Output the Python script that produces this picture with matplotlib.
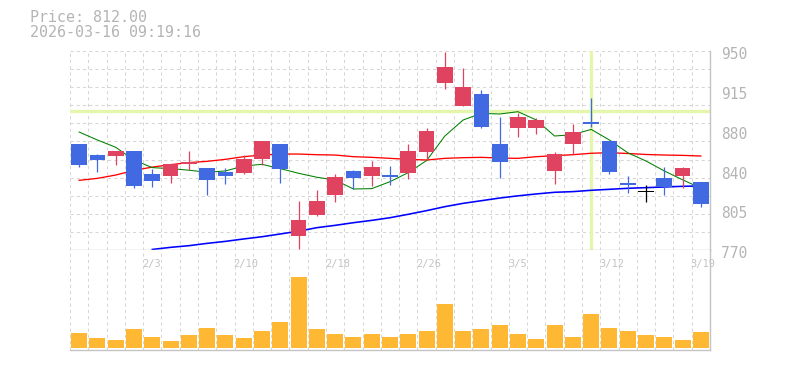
import matplotlib
matplotlib.use("Agg")
import matplotlib.pyplot as plt
from matplotlib.transforms import ScaledTranslation, blended_transform_factory
import numpy as np

# ---------------- data ----------------
header_price = "Price: 812.00"
header_time = "2026-03-16 09:19:16"

opens = [866, 856, 855, 859.5, 839, 836.5, 848, 844, 840.5, 840,
         852.5, 866, 783, 802, 820, 841.5, 837, 838, 840, 858.5,
         921, 900.5, 911, 866, 880.5, 880.5, 841.5, 866, 886, 868.5,
         830.5, 823, 835.5, 836.5, 831.5]
highs = [866, 857, 860, 860, 843, 848, 860, 844, 844, 855.5,
         869, 866, 814, 824, 839, 842.5, 850.5, 846, 866, 880,
         949, 934.5, 914.5, 890.5, 893.5, 889.5, 858.5, 884, 907.5, 868.5,
         837, 828.5, 845, 845.5, 831.5]
lows = [845, 841, 847, 826, 827, 831, 842, 820, 830, 839,
        846.5, 831, 771, 801, 813, 825, 828, 829, 834.5, 851.5,
        916, 900.5, 880.5, 835.5, 872.5, 874.5, 830, 857, 881, 839,
        822, 813, 820, 826.5, 809]
closes = [847, 851, 859.5, 827.5, 832, 848, 849.5, 833, 836.5, 852.5,
          868.5, 843.5, 797, 814, 836, 835.5, 845, 836.5, 859.5, 877.5,
          935.5, 917.5, 881.5, 850, 890.5, 887.5, 857, 876.5, 884, 841,
          829, 823, 827, 844, 812]
volumes = [15, 10, 8, 19, 11, 7, 13, 20, 13, 10,
           17, 26, 71, 19, 14, 11, 14, 11, 14, 17,
           44, 17, 19, 23, 14, 9, 23, 11, 34, 20,
           17, 13, 11, 8, 16]
ma_short = [876.7, 869.5, 862.9, 851.4, 844.5, 843.6, 842.2, 840.3, 841.5, 846.0,
            847.5, 843.6, 839.4, 835.8, 833.3, 825.2, 825.5, 831.8, 840.0, 850.9,
            873.1, 887.6, 893.6, 893.0, 895.1, 887.6, 873.1, 874.3, 879.1, 869.5,
            858.0, 850.5, 841.5, 833.5, 826.0]
ma_mid = [833.0, 834.8, 837.8, 842.0, 845.0, 847.2, 849.0, 850.2, 852.0, 854.4,
          855.9, 856.8, 856.8, 856.2, 855.9, 854.4, 853.8, 852.9, 852.0, 851.4,
          852.9, 853.5, 853.8, 853.2, 852.9, 854.4, 855.3, 856.2, 857.5, 858.0,
          857.3, 856.4, 855.9, 855.6, 855.0]
ma_long = [np.nan, np.nan, np.nan, np.nan, 770.5, 772.4, 773.9, 776.0, 777.8, 780.0,
           782.0, 784.5, 787.0, 790.2, 792.3, 794.7, 796.8, 799.2, 802.3, 805.6,
           809.2, 812.2, 814.6, 817.0, 819.0, 820.7, 822.2, 822.8, 824.0, 824.9,
           825.8, 826.4, 827.0, 827.6, 827.9]
x_tick_index = [4, 9, 14, 19, 24, 29, 34]
x_tick_labels = ["2/3", "2/10", "2/18", "2/26", "3/5", "3/12", "3/19"]
y_tick_values = [950, 914, 878, 842, 806, 770]
y_tick_labels = ["950", "915", "880", "840", "805", "770"]
cursor_index = 28
cursor_price = 895.7

# ---------------- style ----------------
W, H = 785, 370
UP = "#e0435f"
DOWN = "#4169e1"
FLAT = "#000000"
VOL = "#ffb833"
GRID = "#d6d6d6"
AXIS = "#c4c4c4"
TEXT = "#b4b4b4"
XTEXT = "#c4c4c4"
CROSS = "#e4f5ac"
MONO = "DejaVu Sans Mono"

fig = plt.figure(figsize=(W / 100, H / 100), dpi=100)
fig.patch.set_facecolor("white")

n = len(closes)
x = np.arange(n)
ymin, ymax = 770, 950

ax = fig.add_axes([70 / W, (H - 250) / H, 640 / W, 199 / H])
axv = fig.add_axes([70 / W, (H - 350) / H, 640 / W, 100 / H])

for a in (ax, axv):
    a.set_xlim(-0.5, n - 0.5)
    a.set_facecolor("white")
    for s in ("top", "left"):
        a.spines[s].set_visible(False)
    for s in ("right", "bottom"):
        a.spines[s].set_color(AXIS)
        a.spines[s].set_linewidth(1.0)
        a.spines[s].set_zorder(6)
    a.set_xticks([])
    # vertical dashed grid
    for k in range(n + 1):
        a.axvline(k - 0.5, color=GRID, lw=0.75, ls=(0, (3, 3)), zorder=1)

ax.set_ylim(ymin, ymax)
# horizontal dashed grid (11 rows)
for k in range(12):
    ax.axhline(ymax - k * (ymax - ymin) / 11, color=GRID, lw=0.75,
               ls=(0, (3, 3)), zorder=1)

# cross-hair
ax.axhline(cursor_price, color=CROSS, lw=2.4, zorder=2)
ax.axvline(cursor_index, color=CROSS, lw=2.4, zorder=2)

# moving averages
ax.plot(x, ma_long, color="#0000ff", lw=1.15, zorder=3)
ax.plot(x, ma_mid, color="#ff0000", lw=0.95, zorder=3)
ax.plot(x, ma_short, color="#008000", lw=0.75, zorder=3)

# candles
min_h = 1.8 * (ymax - ymin) / 199
for i in range(n):
    o, h, l, c = opens[i], highs[i], lows[i], closes[i]
    col = UP if c > o else (DOWN if c < o else FLAT)
    ax.vlines(i, l, h, color=col, lw=0.9, zorder=4)
    body = abs(c - o)
    bottom = min(o, c)
    if body < min_h:
        bottom = (o + c) / 2 - min_h / 2
        body = min_h
    ax.bar(i, body, bottom=bottom, width=0.86, color=col, lw=0, zorder=5)

ax.yaxis.tick_right()
ax.set_yticks(y_tick_values)
ax.set_yticklabels(y_tick_labels)
ax.tick_params(axis="y", length=0, pad=7.7, labelsize=10.5, labelcolor=TEXT)
for lab in ax.get_yticklabels():
    lab.set_fontfamily(MONO)
    lab.set_transform(lab.get_transform() + ScaledTranslation(0, -2.3 / 100, fig.dpi_scale_trans))

# volume
axv.set_ylim(-2, 98)
axv.set_yticks([])
axv.bar(x, volumes, width=0.875, color=VOL, lw=0, zorder=3)
tr = blended_transform_factory(axv.transData, axv.transAxes)
for idx, lab in zip(x_tick_index, x_tick_labels):
    axv.text(idx - 0.55, 0.833, lab, transform=tr, ha="left", va="baseline",
             fontsize=7.5, family=MONO, color=XTEXT, zorder=7, clip_on=False)

# header
fig.text(30 / W, 1 - 21.7 / H, header_price, ha="left", va="baseline",
         fontsize=10.8, family=MONO, color=TEXT)
fig.text(30 / W, 1 - 36.7 / H, header_time, ha="left", va="baseline",
         fontsize=10.8, family=MONO, color=TEXT)

fig.savefig("out.png", dpi=100, facecolor="white")
